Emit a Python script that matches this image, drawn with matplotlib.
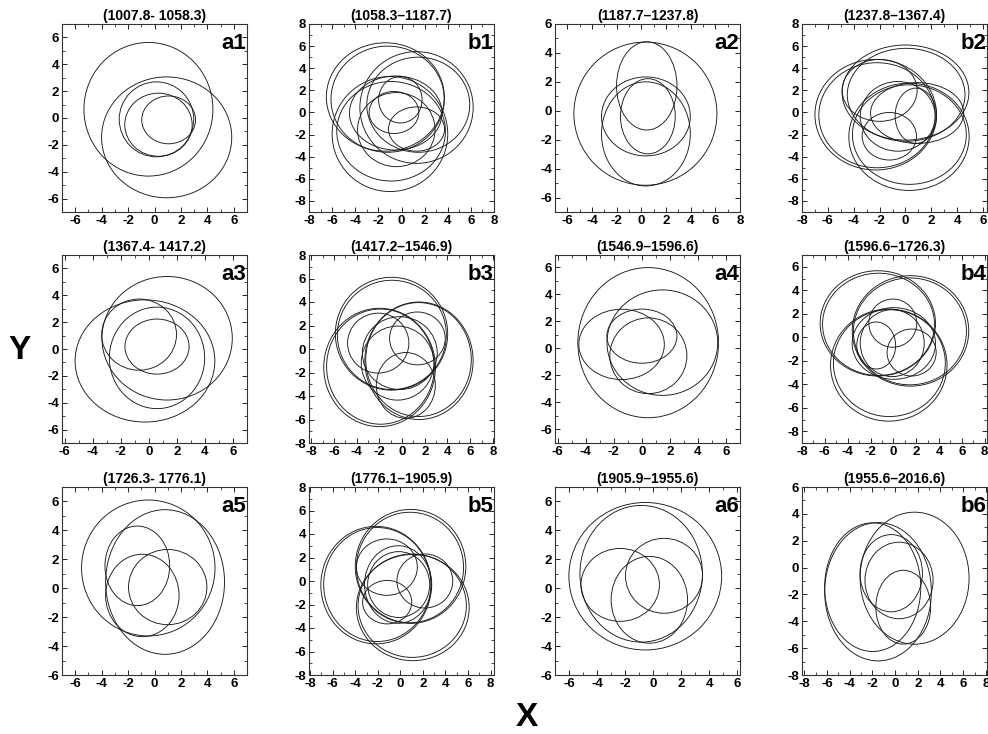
import matplotlib
matplotlib.use("Agg")
import matplotlib.pyplot as plt
from matplotlib.patches import Ellipse
from matplotlib.ticker import MultipleLocator

plt.rcParams['font.family'] = ['Liberation Sans', 'DejaVu Sans']
plt.rcParams['axes.unicode_minus'] = False

# panel labels and period titles, row by row
labels = ["a1", "b1", "a2", "b2", "a3", "b3", "a4", "b4", "a5", "b5", "a6", "b6"]
titles = ["(1007.8- 1058.3)", "(1058.3\u20131187.7)", "(1187.7\u20131237.8)", "(1237.8\u20131367.4)",
          "(1367.4- 1417.2)", "(1417.2\u20131546.9)", "(1546.9\u20131596.6)", "(1596.6\u20131726.3)",
          "(1726.3- 1776.1)", "(1776.1\u20131905.9)", "(1905.9\u20131955.6)", "(1955.6\u20132016.6)"]

# loops: (centre x, centre y, width, height)
loops_a1 = [(-0.46, 0.65, 9.76, 9.95), (0.92, -1.44, 9.85, 9.0), (0.15, -0.1, 5.64, 5.58),
            (0.3, -0.5, 5.1, 4.7), (1.07, -0.14, 4.07, 3.56)]
loops_b1 = [(-1.4, 1.4, 10.2, 9.8), (-1.2, 1.2, 9.8, 9.6), (1.3, 0.45, 9.8, 10.1), (1.45, 0.7, 8.9, 8.6),
            (-1.0, -1.95, 10.0, 10.4), (-0.9, -1.7, 9.4, 9.0), (-0.5, -0.05, 8.0, 6.7), (-0.1, 1.15, 3.76, 4.2),
            (-0.65, 0.0, 4.3, 3.8), (1.3, -1.5, 4.85, 4.0), (-0.45, -1.55, 6.7, 6.7)]
loops_a2 = [(0.33, -0.2, 11.6, 9.9), (0.44, 1.72, 4.9, 6.1), (0.37, -0.39, 7.2, 5.46),
            (0.53, -0.38, 4.44, 5.2), (0.37, -1.6, 7.2, 7.2)]
loops_b2 = [(-2.3, -0.2, 9.4, 10.0), (-2.2, -0.25, 9.0, 9.5), (0.0, 1.8, 9.8, 8.6), (0.05, 1.6, 9.1, 8.4),
            (0.27, -2.2, 9.3, 9.7), (0.3, -2.0, 8.8, 9.0), (-0.6, -0.35, 5.8, 6.3), (-2.0, 2.0, 5.8, 5.6),
            (-1.25, -2.15, 4.2, 4.3), (0.8, -0.3, 3.2, 5.0), (0.9, -0.05, 7.2, 5.5)]
loops_a3 = [(1.3, 0.8, 9.3, 9.2), (-0.28, -0.89, 9.97, 9.1), (0.58, -0.66, 6.8, 7.56),
            (-0.7, 1.07, 5.34, 5.3), (0.58, 0.18, 4.58, 4.1)]
loops_b3 = [(-0.93, 1.3, 9.9, 9.6), (-0.9, 1.2, 9.6, 9.3), (-1.98, -1.57, 9.84, 10.07), (-1.9, -1.5, 9.5, 9.8),
            (1.49, -1.0, 9.54, 10.0), (1.45, -0.9, 9.3, 9.7), (-0.2, -0.35, 6.6, 6.2), (-2.1, 0.5, 5.4, 5.1),
            (0.33, -3.1, 5.2, 5.6), (1.35, 0.9, 4.9, 4.5), (-0.4, -1.2, 6.4, 6.3)]
loops_a4 = [(0.45, 0.42, 10.04, 11.1), (1.46, 0.42, 7.9, 7.8), (-1.45, 0.29, 6.1, 5.2),
            (0.46, -0.55, 5.5, 5.6), (0.0, 0.9, 5.0, 4.0)]
loops_b4 = [(-1.36, 1.18, 10.1, 8.96), (-1.3, 1.1, 9.8, 8.7), (1.5, 0.54, 10.2, 9.4), (1.45, 0.5, 9.9, 9.1),
            (-0.4, -2.37, 10.2, 9.54), (-0.35, -2.2, 9.8, 9.1), (0.04, -0.53, 7.3, 6.1), (-0.05, 1.2, 4.2, 4.1),
            (1.6, -1.3, 4.3, 4.0), (-1.5, -0.7, 3.4, 4.0), (-0.1, -0.5, 5.6, 5.7)]
loops_a5 = [(-0.47, 1.4, 10.1, 9.4), (0.8, 0.43, 9.0, 10.0), (-1.3, 1.55, 4.9, 5.5),
            (-0.92, -0.5, 5.56, 5.7), (1.0, 0.08, 5.93, 5.2)]
loops_b5 = [(0.9, 1.24, 9.8, 9.7), (0.85, 1.15, 9.5, 9.4), (-2.15, -0.35, 9.8, 10.0), (-2.05, -0.3, 9.5, 9.7),
            (1.1, -2.26, 10.0, 9.04), (1.05, -2.1, 9.6, 8.8), (-1.2, 1.18, 5.4, 4.8), (2.17, 0.0, 4.95, 4.6),
            (-1.17, -1.8, 4.36, 3.7), (-0.2, -0.3, 5.96, 6.6), (-0.15, -0.3, 5.5, 5.6)]
loops_a6 = [(-0.56, 0.83, 10.9, 10.2), (-0.85, 1.0, 8.74, 9.45), (-2.35, 0.23, 5.6, 5.04),
            (0.78, 0.86, 5.5, 5.18), (-0.27, -0.8, 5.45, 6.0)]
loops_b6 = [(1.72, -0.79, 9.6, 9.83), (-1.97, -1.46, 8.47, 9.58), (-1.5, -1.8, 9.4, 10.3),
            (-0.34, -0.42, 5.5, 5.75), (0.35, -0.96, 6.0, 5.7), (0.72, -2.95, 4.83, 5.5)]
loops = [loops_a1, loops_b1, loops_a2, loops_b2, loops_a3, loops_b3,
         loops_a4, loops_b4, loops_a5, loops_b5, loops_a6, loops_b6]

# axis ranges per panel
xlims = [(-7, 7), (-8, 8), (-7, 8), (-8, 6.3), (-6.2, 7), (-8.2, 8.1),
         (-6.2, 7), (-8, 8.2), (-7, 7), (-8.1, 8.3), (-7, 6.2), (-8.2, 8.1)]
ylims = [(-7, 7), (-9, 8), (-7, 6), (-9, 8), (-7, 7), (-8, 8),
         (-7, 6.9), (-9, 7), (-6, 7), (-8, 8), (-6, 7), (-8, 6)]

W, H = 988, 734
fig = plt.figure(figsize=(W / 100, H / 100), dpi=100)

lefts = [62, 309, 555, 802]
tops = [24, 255, 487]
aw, ah = 185, 188

for i, lab in enumerate(labels):
    r, c = divmod(i, 4)
    ax = fig.add_axes([lefts[c] / W, 1 - (tops[r] + ah) / H, aw / W, ah / H])
    for cx, cy, w, h in loops[i]:
        ax.add_patch(Ellipse((cx, cy), w, h, fill=False, edgecolor="#1a1a1a", linewidth=0.65))
    ax.set_xlim(*xlims[i])
    ax.set_ylim(*ylims[i])
    ax.xaxis.set_major_locator(MultipleLocator(2))
    ax.yaxis.set_major_locator(MultipleLocator(2))
    ax.xaxis.set_minor_locator(MultipleLocator(1))
    ax.yaxis.set_minor_locator(MultipleLocator(1))
    ax.tick_params(which="both", direction="in", top=True, right=True, labelsize=9.5, pad=2)
    ax.tick_params(which="major", length=3.5, width=0.6)
    ax.tick_params(which="minor", length=2, width=0.5)
    for t in ax.get_xticklabels() + ax.get_yticklabels():
        t.set_fontweight("bold")
    for s in ax.spines.values():
        s.set_linewidth(0.8)
        s.set_color("#333333")
    ax.set_title(titles[i], fontsize=10, fontweight="bold", pad=3)
    ax.text(0.995, 0.865, lab, transform=ax.transAxes, ha="right", va="baseline",
            fontsize=16, fontweight="bold")

fig.text(20 / W, 1 - 350 / H, "Y", fontsize=24, fontweight="bold", ha="center", va="center")
fig.text(527 / W, 1 - 717 / H, "X", fontsize=24, fontweight="bold", ha="center", va="center")

fig.savefig("out.png", dpi=100)
